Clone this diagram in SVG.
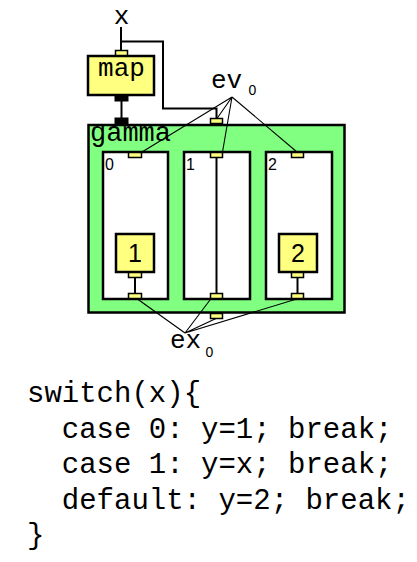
<svg xmlns="http://www.w3.org/2000/svg" width="417" height="562" viewBox="0 0 417 562">
<style>
.mono{font-family:"Liberation Mono","Courier New",monospace;fill:#000}
.sans{font-family:"Liberation Sans",Arial,sans-serif;fill:#000}
.port{fill:#FFFF80;stroke:#000;stroke-width:1.5}
.bport{fill:#000;stroke:#000;stroke-width:1}
.wire{stroke:#000;stroke-width:2;fill:none}
.thin{stroke:#000;stroke-width:1.1;fill:none}
.inner{fill:#fff;stroke:#000;stroke-width:2.5}
.lit{fill:#FFFF80;stroke:#000;stroke-width:2.5}
</style>
<rect width="417" height="562" fill="#fff"/>
<g id="x-label"><text class="mono" x="121.5" y="24" font-size="26" text-anchor="middle">x</text></g>
<g id="map">
<rect x="88" y="56" width="66" height="39" class="lit"/>
<text class="mono" x="121.5" y="76" font-size="26" text-anchor="middle">map</text>
<rect x="115.5" y="50.5" width="12" height="5" class="port"/>
<rect x="115" y="95" width="13" height="6" class="bport"/>
</g>
<g id="gamma">
<rect x="88.5" y="125" width="256" height="187.5" fill="#80FF80" stroke="#000" stroke-width="2.5"/>
<text class="mono" x="90" y="141" font-size="27">gamma</text>
<rect x="115" y="118" width="13" height="6" class="bport"/>
<rect x="210.5" y="118.5" width="12" height="5" class="port"/>
<rect x="210.5" y="313.5" width="12" height="5" class="port"/>
</g>
<g id="connectors">
<path class="wire" d="M121 27V51"/>
<path class="wire" d="M121 41.5H163V108.5H216.5V118.5"/>
<path class="wire" d="M121.5 101V118"/>
<path class="thin" d="M232 97L142 152M232 97L217 118.5M232 97L222.5 152M232 97L297 152"/>
<path class="thin" d="M185 333L136 298M185 333L213 296M185 333L216 318.5M185 333L300 298"/>
</g>
<g id="case0">
<rect x="103" y="152" width="65" height="147" class="inner"/>
<text class="sans" x="105" y="170" font-size="16">0</text>
<rect x="128.5" y="152.5" width="13" height="5" class="port"/>
<rect x="128.5" y="293.5" width="13" height="5" class="port"/>
</g>
<g id="const1">
<rect x="116" y="234" width="38" height="38" class="lit"/>
<text class="sans" x="135" y="262" font-size="25" text-anchor="middle">1</text>
<rect x="128.5" y="272.5" width="13" height="5" class="port"/>
<path class="wire" d="M135 277.5V293.5"/>
</g>
<g id="case1">
<rect x="184" y="152" width="66" height="147" class="inner"/>
<text class="sans" x="186" y="170" font-size="16">1</text>
<path class="wire" d="M216.5 157.5V293.5"/>
<rect x="210.5" y="152.5" width="12" height="5" class="port"/>
<rect x="210.5" y="293.5" width="12" height="5" class="port"/>
</g>
<g id="case2">
<rect x="266" y="152" width="66" height="147" class="inner"/>
<text class="sans" x="268" y="170" font-size="16">2</text>
<rect x="291.5" y="152.5" width="12" height="5" class="port"/>
<rect x="291.5" y="293.5" width="12" height="5" class="port"/>
</g>
<g id="const2">
<rect x="279" y="234" width="38" height="38" class="lit"/>
<text class="sans" x="298" y="262" font-size="25" text-anchor="middle">2</text>
<rect x="291.5" y="272.5" width="12" height="5" class="port"/>
<path class="wire" d="M297.5 277.5V293.5"/>
</g>
<g id="ev">
<text class="mono" x="211" y="88" font-size="26">ev</text>
<text class="sans" x="248.5" y="95" font-size="14">0</text>
</g>
<g id="ex">
<text class="mono" x="170" y="348" font-size="26">ex</text>
<text class="sans" x="205.5" y="357" font-size="14">0</text>
</g>
<g id="code" class="mono" font-size="29">
<text x="27" y="402">switch(x){</text>
<text x="61.8" y="437.5">case 0: y=1; break;</text>
<text x="61.8" y="473">case 1: y=x; break;</text>
<text x="61.8" y="508.5">default: y=2; break;</text>
<text x="27" y="544">}</text>
</g>
</svg>
